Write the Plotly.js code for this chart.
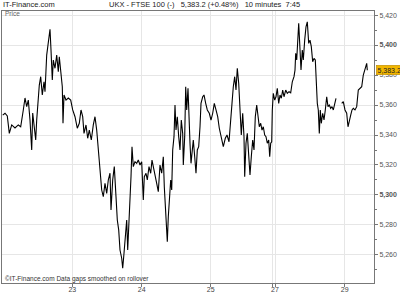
<!DOCTYPE html>
<html>
<head>
<meta charset="utf-8">
<script src="https://cdn.plot.ly/plotly-3.0.1.min.js"></script>
<style>html,body{margin:0;padding:0;background:#fff}#chart{width:400px;height:300px}</style>
</head>
<body>
<div id="chart"></div>
<script>
// session time (10-minute bars, trading-time scale) and FTSE 100 price
const t = [0.7,3,5.3,7.3,9.7,13,16.3,18.7,21.3,23,24.7,26.3,28,29.7,30.7,32.3,33.7,34.7,35.7,37.3,38.7,40.3,42,43,44.7,46.3,48,49,50.3,51.3,53,54.7,56.3,57.3,59,60.3,61,62,64,66.3,68.7,70.7,73,75.3,77.3,79,80.7,82,84,85.7,87.3,89.3,91.3,93,94.7,95.7,97,98,99.7,101.3,103,104.7,106.3,108,109,110.7,112.3,114,115.3,116.7,118,119.7,120.7,122,123.7,124.7,125.7,127,128,129,130,131.3,133,134.7,136.3,138,139.7,140.7,141.3,142.3,144,145.3,147,148.7,150,151.3,153,154.7,156.3,158,159.7,161.3,162.3,163.7,164.7,165.3,166.3,167.3,168.7,169.7,170.7,172,173,174,175.3,176.7,178,179.3,180.7,181.3,182.7,183.7,184.7,186,187,188,189,190.3,191.3,192.7,194,195.3,196.7,198,199,200.7,202,203.7,205.3,207.3,209,210.7,212.3,214,215.7,217.3,219,221.3,223.3,225,227,228.7,230,231.3,232.7,234,235.3,236.7,238,239.3,240.7,242,242.7,244,245.3,246.7,248,249.3,250.7,252,253.3,254.7,256,257.3,258.7,260,261.3,262.7,264,265.3,266.7,267.7,268.7,269.7,270.3,271.3,272.7,274,275.3,276.7,278,279.3,280.7,282,283.7,285.3,287,288.7,290.3,292,293,293.7,294.7,295.7,296.7,297.7,299,300.3,301.3,302.7,304,305.3,306.7,308,309.3,310.7,312,313.3,314.3,315.3,316.3,317.3,318.3,319.3,320.7,322,323.3,324.7,326,327.3,328.7,330,331.3,332.7,334,336.5,339.7,341.3,343,344.7,346,347.3,348.7,350,351.3,353,354.7,356.3,358,359.7,361.3,362.7,364,364.7,365.3];
const price = [5353.3,5354.5,5352.7,5341.1,5346.7,5344.7,5346.7,5345.5,5356.7,5364.7,5358.9,5363.3,5350,5330,5354.7,5345.5,5336.7,5350,5362.2,5373.3,5378.9,5366.7,5375.5,5368.9,5393.3,5403.3,5410.5,5396.7,5376.7,5390,5384.5,5393.3,5382.2,5392.2,5378.9,5372.2,5347.8,5366.7,5363.3,5364.7,5363.3,5356.7,5352.2,5344.5,5347.8,5356.7,5352.2,5341.1,5346.7,5337.8,5343.3,5336.7,5346.7,5352.2,5343.3,5334.5,5325.5,5312.2,5303.3,5298.9,5307.8,5301.1,5310,5314.5,5290,5310,5318.9,5298.9,5283.3,5276.7,5263.3,5257.8,5251.1,5261.1,5276.7,5283.3,5263.3,5281.1,5294.5,5312.2,5332.2,5318.9,5322.2,5321.1,5323.3,5320,5322.2,5306.7,5296.7,5312.2,5314.5,5310,5318.9,5314.5,5323.3,5318.9,5312.2,5307.8,5302.2,5320,5314.5,5325.5,5305.5,5290,5276.7,5268.9,5285.5,5296.7,5310,5303.3,5330,5338.9,5360,5343.3,5352.2,5338.9,5330,5350,5341.1,5320,5338.9,5372.2,5356.7,5371.1,5345.5,5334.5,5321.1,5330,5336.7,5325.5,5314.5,5330,5332.2,5345.5,5361.1,5365.5,5366.7,5361.1,5356.7,5354.5,5350,5354.5,5361.1,5356.7,5352.2,5344.5,5338.9,5332.2,5337.8,5340,5335.5,5354.5,5361.1,5372.2,5378.9,5370,5384.5,5374.5,5356.7,5340,5354.5,5338.9,5312.2,5334.5,5341.1,5327.8,5313.3,5325.5,5336.7,5330,5352.2,5360,5350,5345.5,5347.8,5343.3,5345.5,5340,5338.9,5334.5,5336.7,5325.5,5334.5,5335.5,5356.7,5367.8,5363.3,5365.5,5371.1,5361.1,5366.7,5364.5,5370,5365.5,5370,5367.8,5368.9,5368.2,5375.5,5378.9,5383.3,5394.5,5390,5401.1,5414.5,5401.1,5383.3,5396.7,5390,5403.3,5412.2,5415.5,5401.1,5403.3,5398.9,5388.9,5391.1,5390,5370,5361.1,5356.7,5341.1,5356.7,5347.8,5354.5,5350,5356.7,5365.5,5358.9,5360,5357.8,5358.9,5356.7,5361.1,5364.5,null,5361.1,5362.2,5356.7,5354.5,5345.5,5350,5353.3,5356.7,5357.8,5356.7,5358.9,5370,5371.1,5372.2,5380,5383.3,5386.7,5387.8,5383.2];
const dayTicks = [70.3,139.7,208.7,270.3,273,342.7];
const dayLabels = ['23','24','25','','27','29'];
const priceTicks = [5260,5280,5300,5320,5340,5360,5380,5400,5420];
const priceLabels = ['5,260','5,280','<b>5,300</b>','5,320','5,340','5,360','5,380','<b>5,400</b>','5,420'];
const lastPrice = 5383.2;

const FONT = 'Liberation Sans, Arial, sans-serif';
const data = [{
  x: t, y: price, type: 'scatter', mode: 'lines',
  line: {color: '#000', width: 1.1}, connectgaps: false, hoverinfo: 'skip'
}];
const layout = {
  width: 400, height: 300,
  margin: {l: 2, r: 26, t: 11, b: 17, pad: 0},
  paper_bgcolor: '#fff', plot_bgcolor: '#fff',
  showlegend: false,
  font: {family: FONT, size: 7, color: '#444'},
  xaxis: {
    range: [0, 372], tickmode: 'array', tickvals: dayTicks, ticktext: dayLabels,
    showgrid: true, gridcolor: '#e6e6e6', gridwidth: 1,
    ticks: 'outside', ticklen: 3, tickcolor: '#777', tickwidth: 1,
    ticklabelstandoff: -3,
    showline: true, linecolor: '#777', linewidth: 1, mirror: true,
    zeroline: false, tickfont: {size: 7, color: '#444', family: FONT}
  },
  yaxis: {
    side: 'right', range: [5241.3, 5422.7], tickmode: 'array',
    tickvals: priceTicks, ticktext: priceLabels,
    showgrid: true, gridcolor: '#e6e6e6', gridwidth: 1,
    ticks: 'outside', ticklen: 3, tickcolor: '#777', tickwidth: 1,
    minor: {tickmode: 'array', tickvals: [5250,5270,5290,5310,5330,5350,5370,5390,5410], ticks: 'outside', ticklen: 2, tickcolor: '#777', showgrid: false},
    showline: true, linecolor: '#777', linewidth: 1, mirror: true,
    zeroline: false, tickfont: {size: 7, color: '#555', family: FONT}
  },
  annotations: [
    {xref: 'paper', yref: 'paper', x: -0.003, y: 1.025, xanchor: 'left', yanchor: 'middle',
     text: 'IT-Finance.com', showarrow: false, font: {size: 7.5, color: '#222', family: FONT}},
    {xref: 'paper', yref: 'paper', x: 0.545, y: 1.025, xanchor: 'center', yanchor: 'middle',
     text: 'UKX - FTSE 100 (-)   5,383.2 (+0.48%)   10 minutes  7:45', showarrow: false,
     font: {size: 7.5, color: '#222', family: FONT}},
    {xref: 'paper', yref: 'paper', x: 0.004, y: 0.99, xanchor: 'left', yanchor: 'middle',
     text: 'Price', showarrow: false, font: {size: 6.5, color: '#666', family: FONT}},
    {xref: 'paper', yref: 'paper', x: 0.002, y: 0.013, xanchor: 'left', yanchor: 'middle',
     text: '©IT-Finance.com Data gaps smoothed on rollover', showarrow: false,
     font: {size: 6.5, color: '#333', family: FONT}},
    {xref: 'paper', yref: 'y', x: 1.006, y: lastPrice, xanchor: 'left', yanchor: 'middle',
     text: '5,383.2', showarrow: false, bgcolor: '#f2b600', bordercolor: '#b08000', borderwidth: 0.5, borderpad: 1,
     font: {size: 7, color: '#222', family: FONT}}
  ]
};
Plotly.newPlot('chart', data, layout, {staticPlot: true, displayModeBar: false});
</script>
</body>
</html>
